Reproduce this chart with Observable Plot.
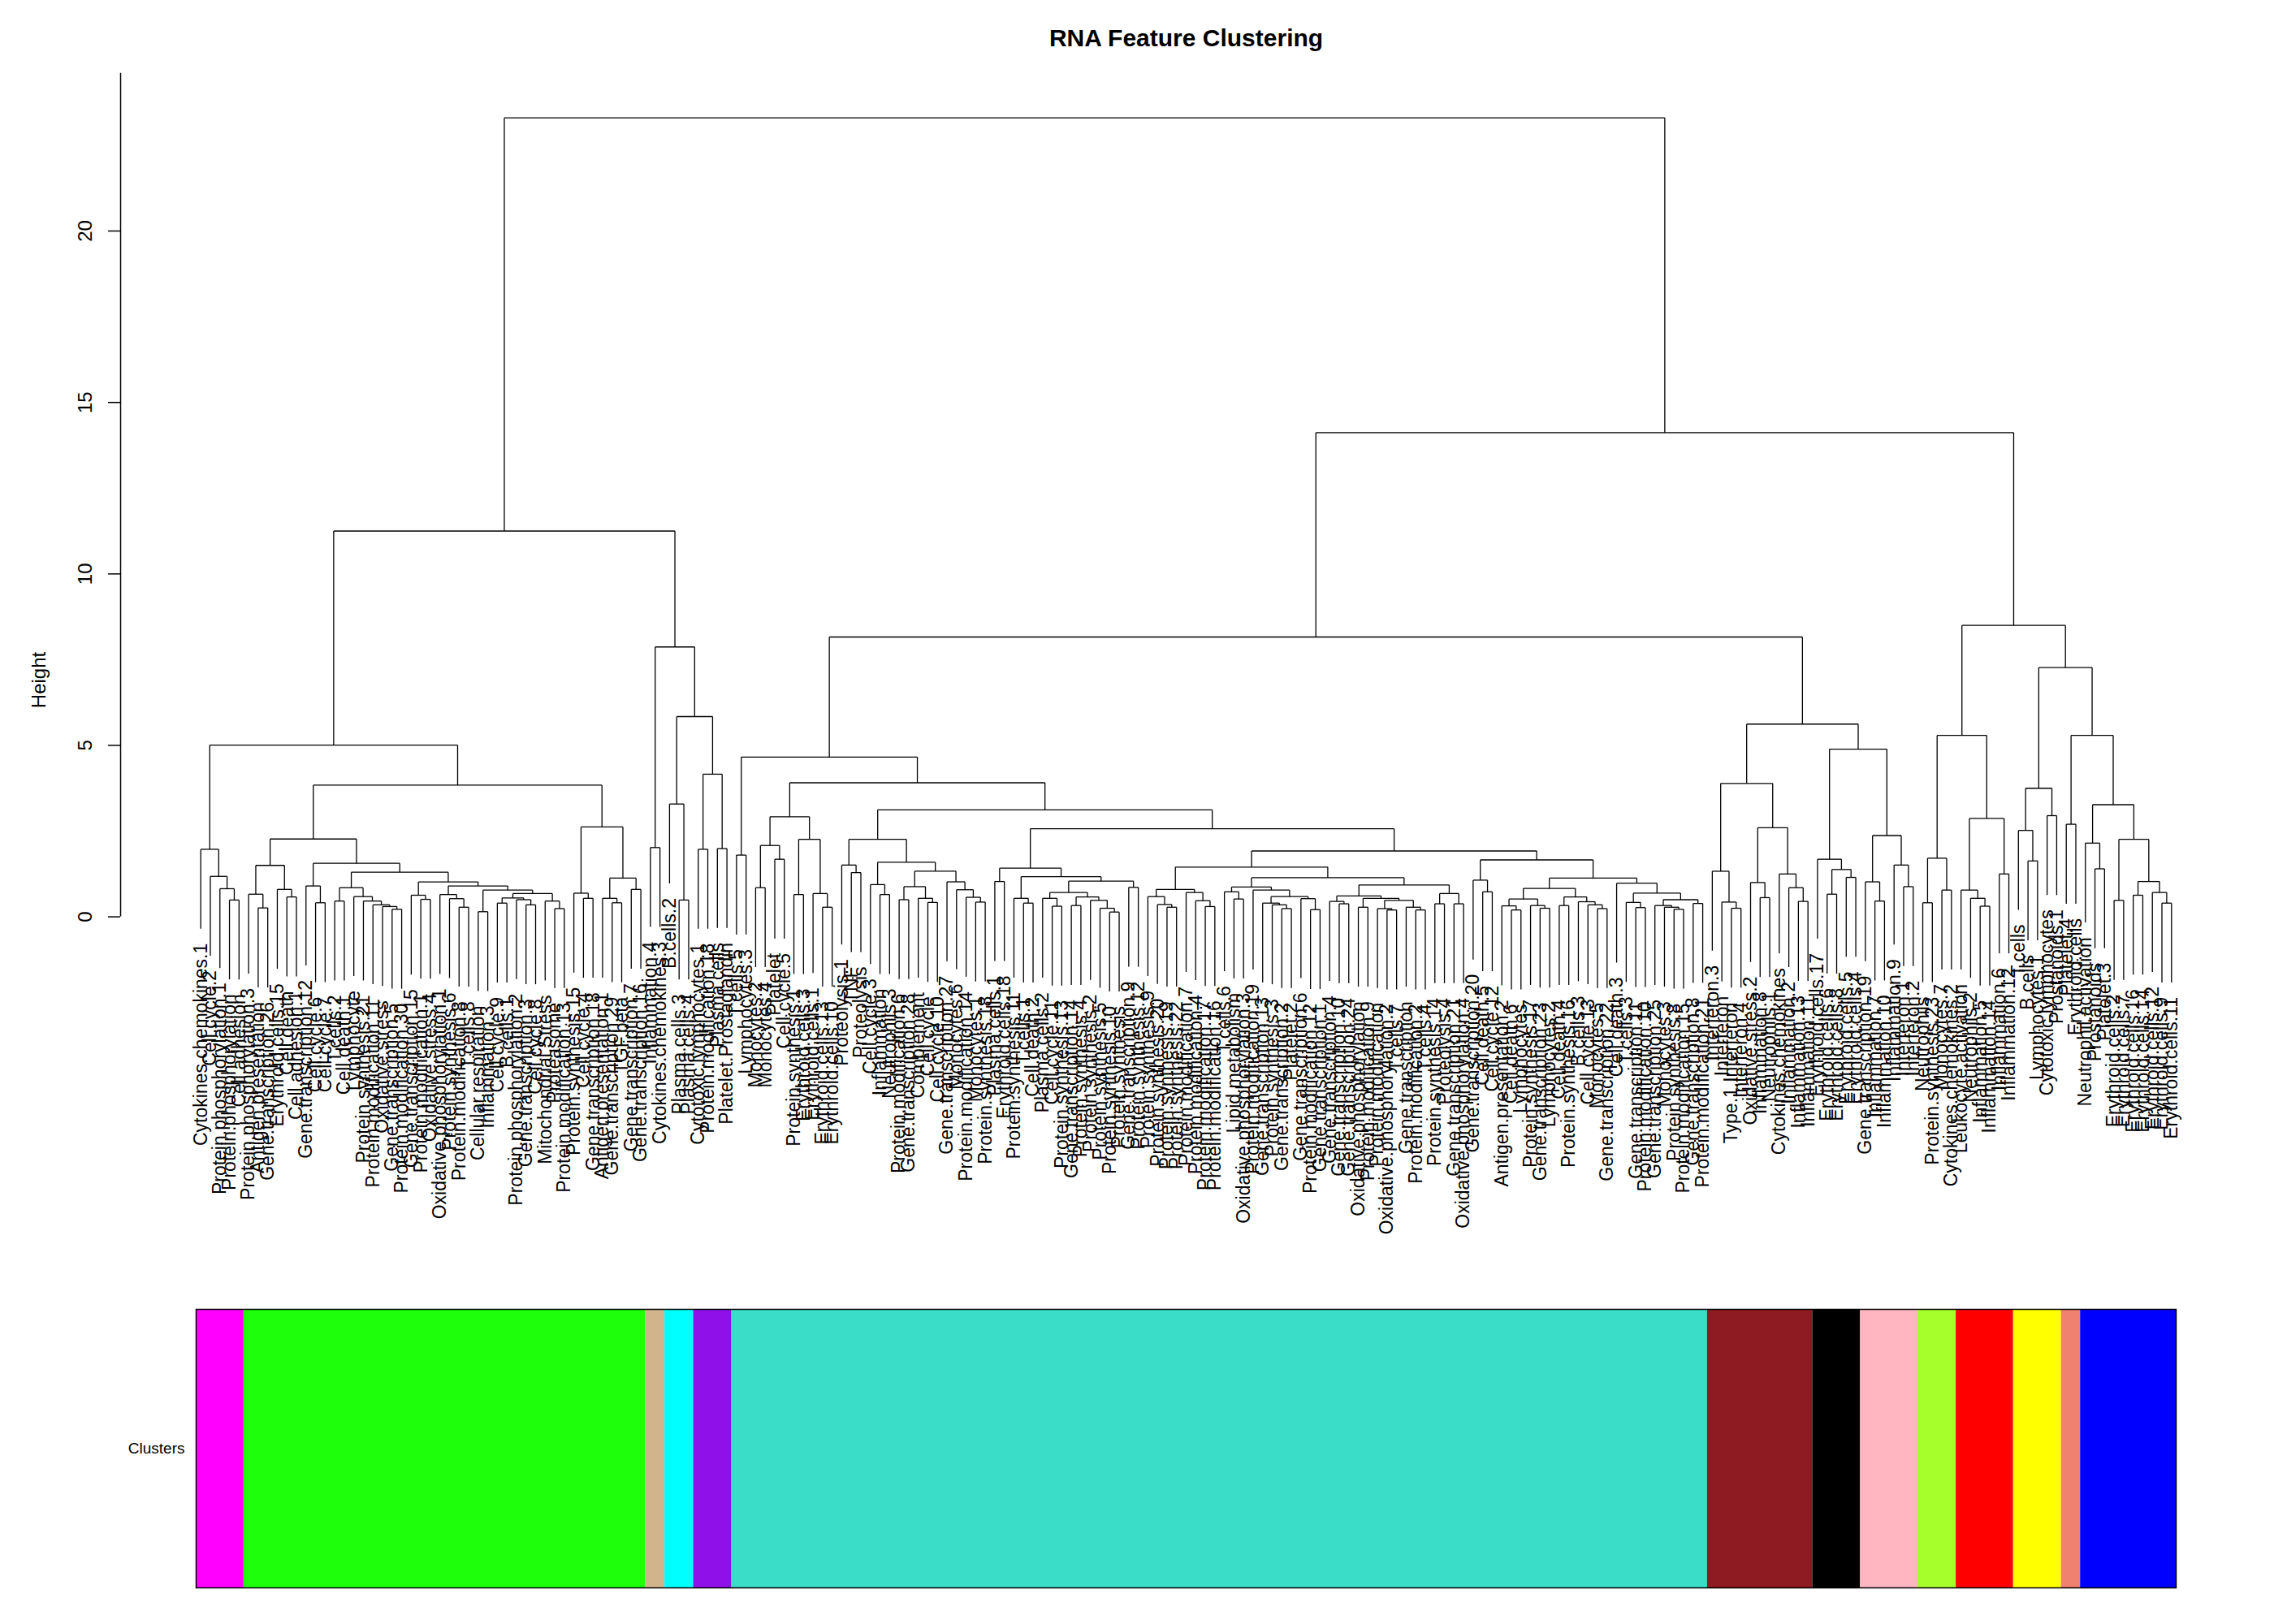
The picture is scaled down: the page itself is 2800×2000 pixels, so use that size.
<!DOCTYPE html>
<html><head><meta charset="utf-8">
<script src="https://cdn.jsdelivr.net/npm/d3@7"></script>
<script src="https://cdn.jsdelivr.net/npm/@observablehq/plot@0.6"></script>
<style>
html,body{margin:0;padding:0;background:#fff;}
#chart{width:2800px;height:2000px;background:#fff;overflow:hidden;}
#chart svg{display:block;}
</style></head><body><div id="chart"></div>
<script>
const title = "RNA Feature Clustering";
const yLabel = "Height";
const yTicks = [0, 5, 10, 15, 20];
const yAxisTop = 24.6;
const colorRowLabel = "Clusters";

const leafLabels = [
"Cytokines.chemokines.1","Cell.cycle.2","Protein.phosphorylation.1","Protein.phosphorylation","Cell.adhesion",
"Protein.phosphorylation.3","Antigen.presentation","Gene.transcription.26","Erythroid.cells.15","Cell.death",
"Cell.adhesion.1","Gene.transcription.12","Cell.cycle.6","Cell.cycle.7","T.cells.2",
"Cell.death.1","Lymphocyte","Protein.synthesis.21","Protein.modification.11","Oxidative.stress",
"Gene.transcription.5","Protein.modification.30","Gene.transcription.15","Protein.modification.1","Oxidative.stress.4",
"Oxidative.phosphorylation.1","Protein.synthesis.6","Protein.modification.8","T.cells.8","Cellular.respiration",
"Inflammation.3","Cell.cycle.9","B.cells.1","Protein.phosphorylation.2","Gene.transcription.3",
"Cell.cycle.8","Mitochondrial.Stress","Proteasome","Protein.modification.13","Protein.synthesis.15",
"Cell.cycle.4","Gene.transcription.18","Antigen.presentation.1","Gene.transcription.29","TGF.beta",
"Gene.transcription.7","Gene.transcription.16","Inflammation.4","Cytokines.chemokines.3","B.cells.2",
"Plasma.cells.3","Plasma.cells.4","Cytotoxic.lymphocytes.1","Protein.modification.18","Plasma.cells",
"Platelet.Prostaglandin","T.cells.5","Lymphocytes.3","Monocytes.2","Monocytes.4",
"Platelet","Cell.cycle.5","Protein.synthesis.1","Erythroid.cells.3","Erythroid.cells.1",
"Erythroid.cells.13","Erythroid.cells.10","Proteolysis.1","TNF","Proteolysis",
"Cell.cycle.3","Inflammation","Neutrophils.3","Protein.modification.6","Gene.transcription.28",
"Complement","Cell.cycle","Cell.cycle.10","Gene.transcription.27","Monocytes.6",
"Protein.modification.14","Monocytes.1","Protein.synthesis.18","Plasma.cells.1","Erythroid.cells.18",
"Protein.synthesis.11","T.cells.1","Cell.death.2","Plasma.cells.2","Cell.cycle.11",
"Protein.synthesis.13","Gene.transcription.14","Protein.synthesis.4","Protein.synthesis.2","Protein.synthesis.5",
"Protein.synthesis.10","Protein.synthesis","Gene.transcription.9","Protein.synthesis.12","Protein.synthesis.9",
"Protein.synthesis.20","Protein.synthesis.19","Protein.synthesis.22","Protein.modification.7","Protein.modification.4",
"Protein.modification.17","Protein.modification.16","T.cells.6","Lipid.metabolism","Oxidative.phosphorylation.3",
"Protein.modification.19","Gene.transcription.13","Protein.synthesis.3","Gene.transcription.2","Platelet.2",
"Gene.transcription.6","Protein.modification.12","Gene.transcription.1","Gene.transcription.4","Gene.transcription.10",
"Gene.transcription.24","Oxidative.phosphorylation","Protein.modification.9","Protein.modification","Oxidative.phosphorylation.2",
"T.cells.7","Gene.transcription","Protein.modification.2","T.cells.4","Protein.synthesis.14",
"Proteolysis.4","Gene.transcription.21","Oxidative.phosphorylation.4","Gene.transcription.20","Cell.death.5",
"Cell.cycle.12","Antigen.presentation.2","Cell.death.6","Lymphocytes","Protein.synthesis.17",
"Gene.transcription.23","Lymphocytes.2","Cell.death.4","Protein.synthesis.16","B.cells.3",
"Cell.cycle.13","Monocytes.5","Gene.transcription.22","Cell.death.3","T.cells.3",
"Gene.transcription.11","Protein.modification.10","Gene.transcription.25","Monocytes.3","Protein.synthesis.8",
"Protein.modification.15","Gene.transcription.8","Protein.modification.21","Interferon.3","Interferon",
"Type.1.Interferon","Interferon.4","Oxidative.stress.2","Inflammation.8","Neutrophils.1",
"Cytokines.chemokines","Inflammation.2","Inflammation.13","Inflammation.11","Erythroid.cells.17",
"Erythroid.cells.6","Erythroid.cells.8","Erythroid.cells.5","Erythroid.cells.4","Gene.transcription.19",
"Inflammation.7","Inflammation.10","Inflammation.9","Interferon.1","Interferon.2",
"Neutrophils","Protein.synthesis.23","Monocytes.7","Cytokines.chemokines.2","Leukocyte.activation",
"Neutrophils.2","Inflammation.5","Inflammation.14","Inflammation.6","Inflammation.12",
"T.cells","B.cells","Lymphocytes.1","Cytotoxic.lymphocytes","Prostanoids.1",
"Platelet.4","Erythroid.cells","Neutrophil.activation","Prostanoids","Platelet.3",
"Erythroid.cells.2","Erythroid.cells.7","Erythroid.cells.16","Erythroid.cells.14","Erythroid.cells.12",
"Erythroid.cells.9","Erythroid.cells.11"
];

const clusterNames  = ["magenta","green","tan","cyan","purple","turquoise","brown","black","pink","greenyellow","red","yellow","salmon","blue"];
const clusterColors = ["#FF00FF","#1EFF0C","#D2B48C","#00FFFF","#9010EA","#3ADDC8","#8E1B22","#000000","#FFB6C1","#A6FF2A","#FF0000","#FFFF00","#F08070","#0000FF"];
const clusterSizes  = [5, 42, 2, 3, 4, 102, 11, 5, 6, 4, 6, 5, 2, 10];

// merge trees: [height, left, right]; numbers are leaf indices
const magentaTree = [1.97, 0, [1.18, 1, [0.82, 2, [0.49, 3, 4]]]];
const greenTree = [3.84,
  [2.27,
    [1.50, [0.66, 5, [0.26, 6, 7]], [0.80, 8, [0.58, 9, 10]]],
    [1.56,
      [0.90, 11, [0.41, 12, 13]],
      [1.30,
        [0.85, [0.46, 14, 15], [0.59, 16, [0.46, 17, [0.35, 18, [0.30, 19, [0.22, 20, 21]]]]]],
        [1.02, [0.63, 22, [0.51, 23, 24]],
          [0.90, [0.65, 25, [0.53, 26, [0.28, 27, 28]]],
            [0.78, [0.15, 29, 30],
              [0.68, [0.55, [0.40, 31, 32], [0.50, 33, [0.35, 34, 35]]], [0.46, 36, [0.24, 37, 38]]]]]]]]],
  [2.62, [0.69, 39, [0.54, 40, 41]], [1.13, [0.54, 42, [0.41, 43, 44]], [0.80, 45, 46]]]];
const tanTree = [2.02, 47, 48];
const cyanTree = [3.29, 49, [0.49, 50, 51]];
const purpleTree = [4.16, [1.97, 52, 53], [1.99, 54, 55]];

const turqA = [1.80, 56, 57];
const turqB = [2.92, [2.08, [0.85, 58, 59], [1.68, 60, 61]], [2.26, [0.65, 62, 63], [0.68, 64, [0.28, 65, 66]]]];
const turqC = [2.26, [1.51, 67, [1.29, 68, 69]],
  [1.59, [0.94, 70, [0.65, 71, 72]],
    [1.33, [0.88, [0.50, 73, 74], [0.54, 75, [0.42, 76, 77]]], [1.02, 78, [0.79, 79, [0.57, 80, [0.43, 81, 82]]]]]]];
const turqD = [1.42, [1.03, 83, 84],
  [1.17, [0.54, 85, [0.40, 86, 87]],
    [1.04, [0.71, [0.54, 88, [0.31, 89, 90]], [0.58, [0.33, 91, 92], [0.48, 93, [0.25, 94, [0.14, 95, 96]]]]], [0.86, 97, 98]]]];
const turqE = [1.45,
  [0.80, [0.59, 99, [0.36, 100, [0.28, 101, 102]]], [0.71, 103, [0.47, 104, [0.30, 105, 106]]]],
  [1.14,
    [0.87, [0.73, 107, [0.52, 108, 109]], [0.78, 110, [0.59, [0.40, 111, [0.35, 112, [0.24, 113, 114]]], [0.53, 115, [0.21, 116, 117]]]]],
    [0.93, [0.61, [0.45, 118, [0.38, 119, 120]], [0.54, [0.28, 121, 122], [0.48, [0.24, 123, [0.20, 124, 125]], [0.28, 126, [0.20, 127, 128]]]]],
      [0.68, [0.38, 129, 130], [0.38, 131, 132]]]]];
const turqF = [1.66, [1.07, 133, [0.73, 134, 135]],
  [1.13,
    [0.83, [0.52, [0.32, 136, [0.20, 137, 138]], [0.33, 139, [0.25, 140, 141]]], [0.58, [0.33, 142, 143], [0.44, 144, [0.35, 145, [0.24, 146, 147]]]]],
    [0.98, 148, [0.69, [0.42, 149, [0.27, 150, 151]], [0.50, [0.33, 152, [0.28, 153, [0.22, 154, 155]]], [0.39, 156, 157]]]]]];
const turquoiseTree = [4.66, turqA, [3.91, turqB, [3.12, turqC, [2.57, turqD, [1.92, turqE, turqF]]]]];

const brownTree = [3.89, [1.33, 158, [0.43, 159, [0.25, 160, 161]]], [2.60, [1.00, 162, [0.56, 163, 164]], [1.25, 165, [0.85, 166, [0.45, 167, 168]]]]];
const blackTree = [1.68, 169, [1.38, [0.66, 170, 171], [1.15, 172, 173]]];
const pinkTree = [2.37, [1.02, 174, [0.46, 175, 176]], [1.51, 177, [0.88, 178, 179]]];
const greenyellowTree = [1.71, [0.41, 180, 181], [0.78, 182, 183]];
const redTree = [2.87, [0.78, 184, [0.54, 185, [0.31, 186, 187]]], [1.25, 188, 189]];
const yellowTree = [3.75, [2.52, 190, [1.63, 191, 192]], [2.95, 193, 194]];
const salmonTree = [2.70, 195, 196];
const blueTree = [3.27, [2.15, 197, [1.40, 198, 199]], [2.26, [0.48, 200, 201], [1.03, [0.63, 202, 203], [0.71, 204, [0.40, 205, 206]]]]];

const fullTree = [23.3,
  [11.25, [5.01, magentaTree, greenTree], [7.87, tanTree, [5.84, cyanTree, purpleTree]]],
  [14.12,
    [8.16, turquoiseTree, [5.62, brownTree, [4.89, blackTree, pinkTree]]],
    [8.5, [5.29, greenyellowTree, redTree], [7.27, yellowTree, [5.29, salmonTree, blueTree]]]]];

// ---- layout (R plot.hclust style) ----
const heights = [];
(function collect(n){ if (typeof n === "number") return; heights.push(n[0]); collect(n[1]); collect(n[2]); })(fullTree);
const hang = 0.1 * (d3.max(heights) - d3.min(heights));
const segs = [];
const leafEnd = new Array(leafLabels.length);
function walk(node) {
  if (typeof node === "number") return {x: node, leaf: true, id: node};
  const [h, a, b] = node;
  const A = walk(a), B = walk(b);
  for (const C of [A, B]) {
    let bottom;
    if (C.leaf) { bottom = h - hang; leafEnd[C.id] = bottom; } else bottom = C.h;
    segs.push({x1: C.x, y1: bottom, x2: C.x, y2: h});
  }
  segs.push({x1: A.x, y1: h, x2: B.x, y2: h});
  return {x: (A.x + B.x) / 2, h, leaf: false};
}
walk(fullTree);
const leaves = leafLabels.map((label, i) => ({i, label, end: leafEnd[i]}));

const font = "'Liberation Sans', Arial, Helvetica, sans-serif";
const W = 2800, H1 = 1600, H2 = 400;
const xDom = [-8.38, 214.38];
const pxPerUnit = 42.23, zeroPx = 1128.6;
const yDom = [-(H1 - zeroPx) / pxPerUnit, zeroPx / pxPerUnit];

const dendro = Plot.plot({
  width: W, height: H1,
  marginLeft: 148, marginRight: 28, marginTop: 0, marginBottom: 0,
  x: {domain: xDom, axis: null},
  y: {domain: yDom, axis: null},
  style: {fontFamily: font, fontSize: "14px", background: "white", color: "black", overflow: "visible"},
  marks: [
    Plot.link(segs, {x1: "x1", y1: "y1", x2: "x2", y2: "y2", stroke: "black", strokeWidth: 1.3}),
    Plot.text(leaves, {x: "i", y: "end", text: "label", rotate: -90, textAnchor: "end", lineAnchor: "middle", dy: 18, fontSize: 23, fill: "black"}),
    Plot.ruleX([xDom[0]], {y1: 0, y2: yAxisTop, stroke: "black", strokeWidth: 1.5}),
    Plot.axisY(yTicks, {anchor: "left", tickSize: 15, tickFormat: () => "", label: null, strokeWidth: 1.5}),
    Plot.text(yTicks, {y: d => d, text: d => String(d), frameAnchor: "left", dx: -43, rotate: -90, textAnchor: "middle", lineAnchor: "middle", fontSize: 24, fill: "black"}),
    Plot.text([yLabel], {frameAnchor: "left", dx: -100, dy: 37, rotate: -90, textAnchor: "middle", lineAnchor: "middle", fontSize: 24, fill: "black"}),
    Plot.text([title], {frameAnchor: "top", dy: 47, textAnchor: "middle", lineAnchor: "middle", fontSize: 30, fontWeight: "bold", fill: "black"})
  ]
});

let start = 0;
const clusterSegs = clusterSizes.map((n, k) => {
  const s = {name: clusterNames[k], color: clusterColors[k], x1: start - 0.5, x2: start + n - 0.5};
  start += n;
  return s;
});

const bar = Plot.plot({
  width: W, height: H2,
  marginLeft: 241, marginRight: 121, marginTop: 12, marginBottom: 45,
  x: {domain: [-0.5, leafLabels.length - 0.5], axis: null},
  y: {domain: [0, 1], axis: null},
  color: {type: "identity"},
  style: {fontFamily: font, background: "white", color: "black", overflow: "visible"},
  marks: [
    Plot.rect(clusterSegs, {x1: "x1", x2: "x2", y1: 0, y2: 1, fill: "color"}),
    Plot.frame({stroke: "black", strokeWidth: 1.5}),
    Plot.text([colorRowLabel], {frameAnchor: "left", dx: -14, textAnchor: "end", fontSize: 19, fill: "black"})
  ]
});

const root = document.getElementById("chart");
root.appendChild(dendro);
root.appendChild(bar);
</script>
</body></html>
